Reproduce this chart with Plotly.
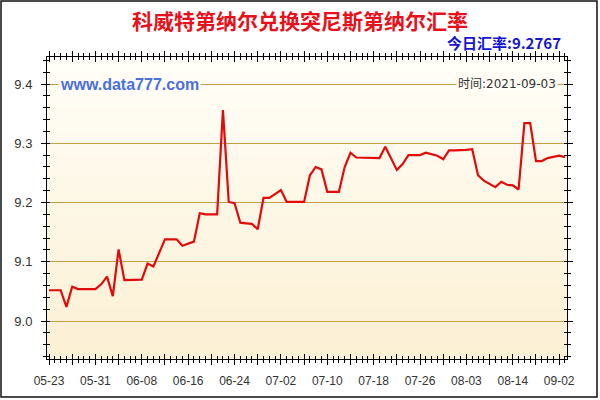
import plotly.graph_objects as go

# ---------------- data ----------------
dates = [
    "05-23", "05-24", "05-25", "05-26", "05-27", "05-28", "05-29", "05-30", "05-31",
    "06-01", "06-02", "06-03", "06-04", "06-05", "06-06", "06-07", "06-08", "06-09", "06-10",
    "06-11", "06-12", "06-13", "06-14", "06-15", "06-16", "06-17", "06-18", "06-19", "06-20",
    "06-21", "06-22", "06-23", "06-24", "06-25", "06-26", "06-27", "06-28", "06-29", "06-30",
    "07-01", "07-02", "07-03", "07-04", "07-05", "07-06", "07-07", "07-08", "07-09", "07-10",
    "07-11", "07-12", "07-13", "07-14", "07-15", "07-16", "07-17", "07-18", "07-19", "07-20",
    "07-21", "07-22", "07-23", "07-24", "07-25", "07-26", "07-27", "07-28", "07-29", "07-30",
    "07-31", "08-01", "08-02", "08-03", "08-04", "08-05", "08-06", "08-09", "08-10", "08-11",
    "08-12", "08-14", "08-16", "08-18", "08-20", "08-24", "08-26", "08-28", "08-31", "09-02",
    "09-03",
]

rates = [
    9.052, 9.052, 9.052, 9.024, 9.058, 9.054, 9.054, 9.054, 9.054,
    9.062, 9.075, 9.042, 9.121, 9.069, 9.069, 9.069, 9.070, 9.097, 9.092,
    9.115, 9.138, 9.138, 9.138, 9.127, 9.130, 9.134, 9.182, 9.180, 9.180,
    9.180, 9.356, 9.201, 9.199, 9.166, 9.165, 9.164, 9.155, 9.208, 9.208,
    9.215, 9.221, 9.201, 9.201, 9.201, 9.201, 9.246, 9.260, 9.256, 9.218,
    9.218, 9.218, 9.260, 9.284, 9.276, 9.276, 9.276, 9.275, 9.275, 9.294,
    9.275, 9.255, 9.265, 9.280, 9.280, 9.280, 9.284, 9.281, 9.279, 9.273,
    9.288, 9.288, 9.288, 9.289, 9.290, 9.246, 9.237, 9.232, 9.226, 9.235,
    9.230, 9.229, 9.222, 9.334, 9.334, 9.270, 9.270, 9.275, 9.277, 9.279,
    9.2767,
]

label_dates = ["05-23", "05-31", "06-08", "06-16", "06-24", "07-02",
               "07-10", "07-18", "07-26", "08-03", "08-14", "09-02"]
y_tick_vals = [9.0, 9.1, 9.2, 9.3, 9.4]
y_tick_text = ["9.0", "9.1", "9.2", "9.3", "9.4"]

title_text = "科威特第纳尔兑换突尼斯第纳尔汇率"
today_text = "今日汇率:9.2767"
site_text = "www.data777.com"
time_text = "时间:2021-09-03"

# ---------------- layout helpers ----------------
W, H = 600, 400
L, R, T, B = 47, 33, 57, 41
PW, PH = W - L - R, H - T - B


def px_x(px):
    return (px - L) / PW


def px_y(py):
    return (H - B - py) / PH


y_range = [8.936, 9.4456]
x_range = [-0.35, len(dates) - 1 + 0.35]

major_cats = dates[::4]
major_text = [d if d in label_dates else "" for d in major_cats]

fig = go.Figure()

fig.add_trace(go.Scatter(
    x=dates, y=rates, mode="lines",
    line=dict(color="#E30A0A", width=2.2),
    showlegend=False, hoverinfo="x+y",
))
# invisible helper traces to carry the tick-mark overlay axes
for xa, ya in [("x2", "y2"), ("x3", "y"), ("x4", "y")]:
    fig.add_trace(go.Scatter(x=dates, y=rates, mode="none", xaxis=xa, yaxis=ya,
                             showlegend=False, hoverinfo="skip"))

# gradient plot background
n_bands = 40
top_c = (255, 254, 248)
bot_c = (252, 240, 212)
shapes = []
for i in range(n_bands):
    f = i / (n_bands - 1)
    c = tuple(round(top_c[k] + (bot_c[k] - top_c[k]) * f) for k in range(3))
    shapes.append(dict(
        type="rect", xref="paper", yref="paper", layer="below",
        x0=0, x1=1, y0=1 - (i + 1) / n_bands, y1=1 - i / n_bands,
        fillcolor="rgb(%d,%d,%d)" % c, line=dict(width=0),
    ))
# outer frame
shapes.append(dict(
    type="rect", xref="paper", yref="paper", layer="above",
    x0=px_x(1), x1=px_x(597), y0=px_y(397), y1=px_y(1),
    line=dict(color="#111111", width=1.5), fillcolor="rgba(0,0,0,0)",
))

tick_font = dict(family="Liberation Sans, Arial, sans-serif", size=12, color="#333333")

common_cat = dict(type="category", categoryorder="array", categoryarray=dates,
                  range=x_range, showgrid=False, zeroline=False, fixedrange=True)

fig.update_layout(
    width=W, height=H,
    margin=dict(l=L, r=R, t=T, b=B),
    paper_bgcolor="white",
    plot_bgcolor="#FEF8E8",
    shapes=shapes,
    xaxis=dict(
        **common_cat,
        tickmode="array", tickvals=major_cats, ticktext=major_text,
        ticks="outside", ticklen=5, tickcolor="black", tickwidth=1,
        showline=True, linecolor="black", linewidth=1, mirror="ticks",
        tickfont=tick_font, ticklabelstandoff=6,
    ),
    xaxis2=dict(
        **common_cat, overlaying="x", anchor="y", side="bottom",
        tickmode="array", tickvals=major_cats, ticktext=[""] * len(major_cats),
        ticks="inside", ticklen=5, tickcolor="black", tickwidth=1,
        showline=False, mirror="ticks", showticklabels=False,
    ),
    xaxis3=dict(
        **common_cat, overlaying="x", anchor="y", side="bottom",
        tickmode="array", tickvals=dates, ticktext=[""] * len(dates),
        ticks="outside", ticklen=3, tickcolor="black", tickwidth=1,
        showline=False, mirror="ticks", showticklabels=False,
    ),
    xaxis4=dict(
        **common_cat, overlaying="x", anchor="y", side="bottom",
        tickmode="array", tickvals=dates, ticktext=[""] * len(dates),
        ticks="inside", ticklen=3, tickcolor="black", tickwidth=1,
        showline=False, mirror="ticks", showticklabels=False,
    ),
    yaxis=dict(
        range=y_range, tickmode="array", tickvals=y_tick_vals, ticktext=y_tick_text,
        ticks="outside", ticklen=5, tickcolor="black", tickwidth=1,
        minor=dict(tickmode="linear", tick0=9.0, dtick=0.02, ticks="outside",
                   ticklen=3, tickcolor="black", tickwidth=1, showgrid=False),
        showgrid=True, gridcolor="#C4A040", gridwidth=1,
        showline=True, linecolor="black", linewidth=1, mirror="ticks",
        zeroline=False, fixedrange=True,
        tickfont=dict(family="Liberation Sans, Arial, sans-serif", size=13, color="#333333"),
        ticklabelstandoff=6,
    ),
    yaxis2=dict(
        range=y_range, overlaying="y", anchor="x", side="left",
        tickmode="array", tickvals=y_tick_vals, ticktext=[""] * len(y_tick_vals),
        ticks="inside", ticklen=5, tickcolor="black", tickwidth=1,
        minor=dict(tickmode="linear", tick0=9.0, dtick=0.02, ticks="inside",
                   ticklen=3, tickcolor="black", tickwidth=1, showgrid=False),
        showgrid=False, showline=False, mirror="ticks", zeroline=False,
        showticklabels=False, fixedrange=True,
    ),
    annotations=[
        dict(text="<b>%s</b>" % title_text, xref="paper", yref="paper",
             x=px_x(300), y=px_y(20), xanchor="center", yanchor="middle",
             showarrow=False,
             font=dict(family="Noto Sans CJK SC", size=21, color="#E8101A")),
        dict(text="<b>%s</b>" % today_text, xref="paper", yref="paper",
             x=px_x(563), y=px_y(42), xanchor="right", yanchor="middle",
             showarrow=False,
             font=dict(family="Noto Sans CJK SC", size=15, color="#1414D2")),
        dict(text="<b>%s</b>" % site_text, xref="paper", yref="paper",
             x=px_x(58), y=px_y(84), xanchor="left", yanchor="middle",
             showarrow=False, bgcolor="#FFFDF6", borderpad=1,
             font=dict(family="Liberation Sans, Arial, sans-serif", size=16, color="#4A6FE3")),
        dict(text=time_text, xref="paper", yref="paper",
             x=px_x(558), y=px_y(84), xanchor="right", yanchor="middle",
             showarrow=False, bgcolor="#FFFDF6", borderpad=1,
             font=dict(family="DejaVu Sans, Noto Sans CJK SC", size=12, color="#333333")),
    ],
)

fig.write_html(
    "out.html",
    config={"displayModeBar": False},
    post_script="document.body.style.margin='0';document.body.style.overflow='hidden';",
)
